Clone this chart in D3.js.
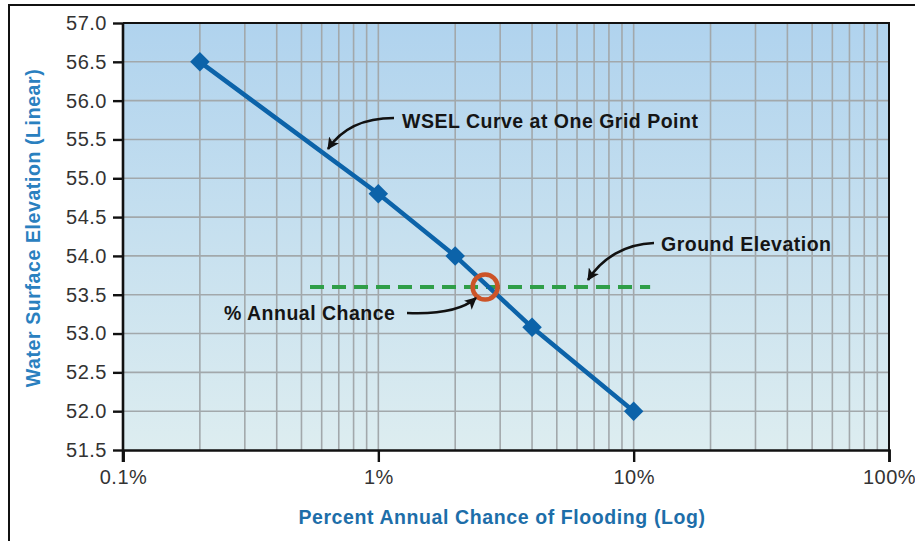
<!DOCTYPE html>
<html>
<head>
<meta charset="utf-8">
<script src="https://cdn.jsdelivr.net/npm/d3@7/dist/d3.min.js"></script>
<style>
  html, body { margin: 0; padding: 0; background: #fff; }
  svg { display: block; font-family: "Liberation Sans", Arial, Helvetica, sans-serif; }
</style>
</head>
<body>
<svg id="chart" width="915" height="541"></svg>
<script>
// Water surface elevation (WSEL) curve at one grid point
const chancePct = [0.2, 1, 2, 4, 10];          // percent annual chance of flooding
const wsel = [56.5, 54.8, 54.0, 53.08, 52.0];   // water surface elevation
const groundElevation = 53.6;
const groundSpanPct = [0.54, 11.6];
const crossingPct = 2.62;

const xTickValues = [0.1, 1, 10, 100];
const xTickLabels = ["0.1%", "1%", "10%", "100%"];
const yTickValues = [51.5, 52.0, 52.5, 53.0, 53.5, 54.0, 54.5, 55.0, 55.5, 56.0, 56.5, 57.0];

const svg = d3.select("#chart");
const plot = { left: 123, right: 889, top: 23, bottom: 450 };

const x = d3.scaleLog().domain([0.1, 100]).range([plot.left, plot.right]);
const y = d3.scaleLinear().domain([51.5, 57.0]).range([plot.bottom, plot.top]);

// frame lines
svg.append("line").attr("x1", 8).attr("x2", 915).attr("y1", 5).attr("y2", 5)
  .attr("stroke", "#111").attr("stroke-width", 2);
svg.append("line").attr("x1", 9).attr("x2", 9).attr("y1", 4).attr("y2", 541)
  .attr("stroke", "#111").attr("stroke-width", 2);

// background gradient
const defs = svg.append("defs");
const grad = defs.append("linearGradient").attr("id", "bg").attr("x1", 0).attr("y1", 0).attr("x2", 0).attr("y2", 1);
grad.append("stop").attr("offset", "0%").attr("stop-color", "#b0d3ee");
grad.append("stop").attr("offset", "100%").attr("stop-color", "#ddedf0");

defs.append("marker").attr("id", "arrow").attr("viewBox", "0 0 12 12")
  .attr("refX", 11).attr("refY", 6).attr("markerWidth", 12).attr("markerHeight", 12)
  .attr("markerUnits", "userSpaceOnUse").attr("orient", "auto")
  .append("path").attr("d", "M0,0 L12,6 L0,12 L3,6 Z").attr("fill", "#111");

svg.append("rect").attr("x", plot.left).attr("y", plot.top)
  .attr("width", plot.right - plot.left).attr("height", plot.bottom - plot.top)
  .attr("fill", "url(#bg)");

// grid lines
const minorX = [];
for (let d = 0.1; d < 100; d *= 10) {
  for (let k = 1; k <= 9; k++) minorX.push(+(d * k).toPrecision(3));
}
svg.append("g").selectAll("line").data(minorX.filter(v => v > 0.1)).join("line")
  .attr("x1", d => x(d)).attr("x2", d => x(d))
  .attr("y1", plot.top).attr("y2", plot.bottom)
  .attr("stroke", "#a2a8ab").attr("stroke-width", 1.6);
svg.append("g").selectAll("line").data(yTickValues.filter(v => v > 51.5 && v < 57)).join("line")
  .attr("x1", plot.left).attr("x2", plot.right)
  .attr("y1", d => y(d)).attr("y2", d => y(d))
  .attr("stroke", "#a2a8ab").attr("stroke-width", 1.6);

// plot border (top, right)
svg.append("path")
  .attr("d", `M${plot.left},${plot.top}H${plot.right}V${plot.bottom}`)
  .attr("fill", "none").attr("stroke", "#111").attr("stroke-width", 2);

// axes
const yAxis = d3.axisLeft(y).tickValues(yTickValues).tickFormat(d3.format(".1f")).tickSize(10).tickPadding(6);
const gy = svg.append("g").attr("transform", `translate(${plot.left},0)`).call(yAxis);
const xAxis = d3.axisBottom(x).tickValues(xTickValues).tickFormat((d, i) => xTickLabels[i]).tickSize(12).tickPadding(8);
const gx = svg.append("g").attr("transform", `translate(0,${plot.bottom})`).call(xAxis);
[gx, gy].forEach(g => {
  g.select(".domain").attr("stroke", "#111").attr("stroke-width", 2.6);
  g.selectAll(".tick line").attr("stroke", "#111").attr("stroke-width", 2.4);
  g.selectAll(".tick text").attr("fill", "#333").attr("font-size", 20)
    .attr("letter-spacing", 0.5)
    .attr("font-family", "'Liberation Sans', Arial, sans-serif");
});
gy.select(".domain").attr("d", `M0,${plot.top}V${plot.bottom + 12}`);

// axis titles
svg.append("text").attr("x", 502).attr("y", 524).attr("text-anchor", "middle")
  .attr("font-size", 19.5).attr("letter-spacing", 0.6).attr("font-weight", "bold").attr("fill", "#1d6ea9")
  .text("Percent Annual Chance of Flooding (Log)");
svg.append("text").attr("transform", "translate(40,228) rotate(-90)").attr("text-anchor", "middle")
  .attr("font-size", 19.5).attr("letter-spacing", 0.6).attr("font-weight", "bold").attr("fill", "#2a80bf")
  .text("Water Surface Elevation (Linear)");

// ground elevation line
svg.append("line")
  .attr("x1", x(groundSpanPct[0])).attr("x2", x(groundSpanPct[1]))
  .attr("y1", y(groundElevation)).attr("y2", y(groundElevation))
  .attr("stroke", "#2f9e48").attr("stroke-width", 4).attr("stroke-dasharray", "14,8");

// WSEL curve
const pts = chancePct.map((c, i) => [c, wsel[i]]);
svg.append("path").datum(pts)
  .attr("d", d3.line().x(d => x(d[0])).y(d => y(d[1])))
  .attr("fill", "none").attr("stroke", "#0c63a9").attr("stroke-width", 4.5);
svg.append("g").selectAll("path").data(pts).join("path")
  .attr("d", d3.symbol(d3.symbolSquare, 190)())
  .attr("transform", d => `translate(${x(d[0])},${y(d[1])}) rotate(45)`)
  .attr("fill", "#0c63a9");

// crossing point
svg.append("circle").attr("cx", x(crossingPct)).attr("cy", y(groundElevation)).attr("r", 12.5)
  .attr("fill", "none").attr("stroke", "#cc5428").attr("stroke-width", 4.5);

// annotations
const label = (tx, ty, str) => svg.append("text").attr("x", tx).attr("y", ty)
  .attr("font-size", 19.5).attr("letter-spacing", 0.5).attr("font-weight", "bold").attr("fill", "#151515").text(str);
label(402, 128, "WSEL Curve at One Grid Point");
label(661, 251, "Ground Elevation");
label(224, 320, "% Annual Chance");

const arrow = d => svg.append("path").attr("d", d).attr("fill", "none")
  .attr("stroke", "#111").attr("stroke-width", 2.6).attr("marker-end", "url(#arrow)");
arrow("M394,118 C365,118 342,128 328,149");
arrow("M654,243 C625,244 602,258 588,280");
arrow("M407,313 C430,314 460,312 476,298");
</script>
</body>
</html>
